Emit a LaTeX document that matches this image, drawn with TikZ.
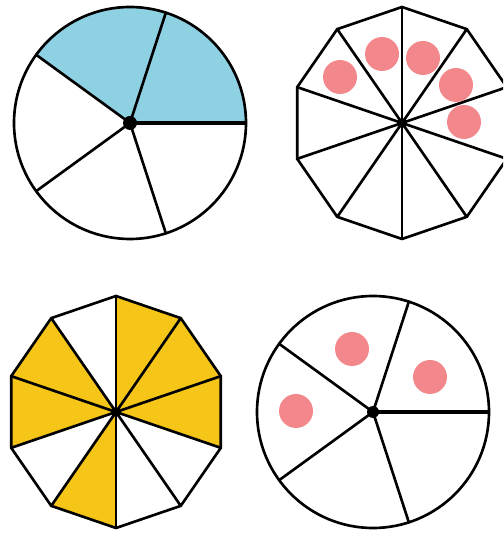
\documentclass[tikz,border=0pt]{standalone}
\usepackage{tikz}
\usetikzlibrary{calc}
\definecolor{pieblue}{HTML}{8DD1E3}
\definecolor{pieyellow}{HTML}{F5C518}
\definecolor{dotred}{HTML}{F27E82}
\tikzset{
  rim/.style={draw=black,line width=1.5pt,line join=round},
  spoke/.style={black,line width=1.5pt,line cap=round},
  spokebold/.style={black,line width=2.5pt},
  hub/.style={fill=black},
  counter/.style={fill=dotred,opacity=0.92},
}

\begin{document}
\begin{tikzpicture}[x=0.02cm,y=0.02cm]
  \useasboundingbox (0,0) rectangle (503,533);
  \clip (0,0) rectangle (503,533);
  \coordinate (tl) at (130,410);
  \coordinate (tr) at (402,410);
  \coordinate (bl) at (116,121);
  \coordinate (br) at (373,121);

  % circle in fifths, two shaded
  \fill[pieblue] (tl) -- ++(0:116) arc[start angle=0,end angle=144,radius=116] -- cycle;
  \draw[rim] (tl) circle[radius=116];
  \foreach \a in {72,144,216,288}
    \draw[spoke] (tl) -- ++(\a:116);
  \draw[spokebold] (tl) -- ++(0:116);
  \fill[hub] (tl) circle[radius=7];

  % decagon in tenths, five counters
  \begin{scope}[shift={(tr)},xscale=0.95]
    \draw[rim] (90:116) \foreach \k in {1,...,9} {-- ({90+36*\k}:116)} -- cycle;
    \foreach \k in {0,...,9}
      \draw[spoke] (0,0) -- ({90+36*\k}:116);
  \end{scope}
  \fill[hub] (tr) circle[radius=5];
  \foreach \p in {(340,456),(382,479),(423,475),(456,448),(464,411)}
    \fill[counter] \p circle[radius=17];

  % decagon in tenths, six shaded
  \begin{scope}[shift={(bl)},xscale=0.95]
    \foreach \a in {-126,-18,18,54,126,162}
      \fill[pieyellow] (0,0) -- (\a:116) -- ({\a+36}:116) -- cycle;
    \draw[rim] (90:116) \foreach \k in {1,...,9} {-- ({90+36*\k}:116)} -- cycle;
    \foreach \k in {0,...,9}
      \draw[spoke] (0,0) -- ({90+36*\k}:116);
  \end{scope}
  \fill[hub] (bl) circle[radius=5];

  % circle in fifths, three counters
  \draw[rim] (br) circle[radius=116];
  \foreach \a in {72,144,216,288}
    \draw[spoke] (br) -- ++(\a:116);
  \draw[spokebold] (br) -- ++(0:116);
  \fill[hub] (br) circle[radius=6];
  \foreach \p in {(352,184),(430,156),(296,122)}
    \fill[counter] \p circle[radius=17];
\end{tikzpicture}
\end{document}
